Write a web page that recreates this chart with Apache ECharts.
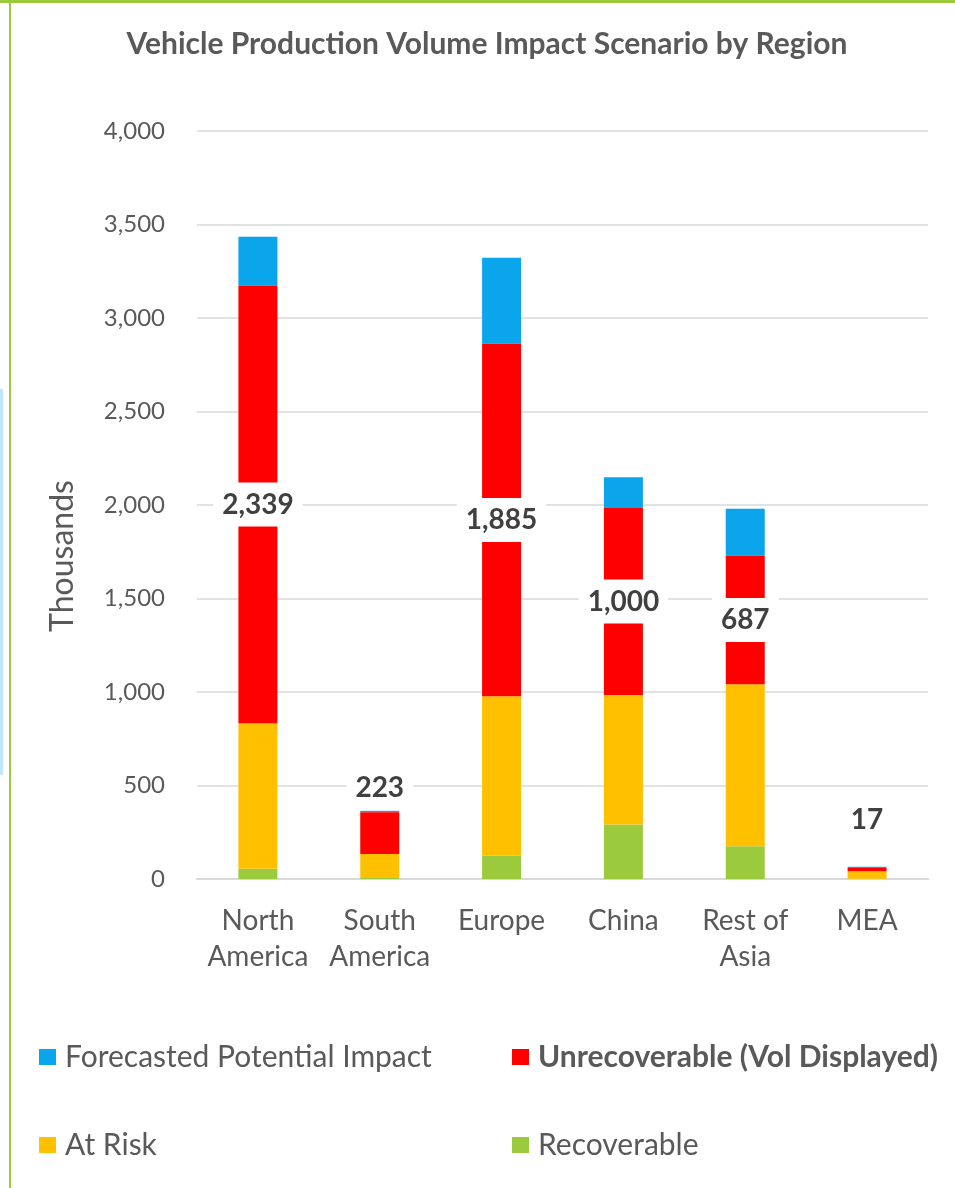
<!DOCTYPE html>
<html>
<head>
<meta charset="utf-8">
<script src="https://cdn.jsdelivr.net/npm/echarts@6/dist/echarts.min.js"></script>
<style>
  html, body { margin: 0; padding: 0; background: #ffffff; }
  #chart { width: 955px; height: 1188px; }
</style>
</head>
<body>
<div id="chart"></div>
<script>
// Regions and per-segment production volumes (thousands of vehicles)
const categories = ['North\nAmerica', 'South\nAmerica', 'Europe', 'China', 'Rest of\nAsia', 'MEA'];
const recoverable = [55, 6, 125, 292, 175, 2];
const atRisk = [778, 128, 852, 692, 866, 40];
const unrecoverable = [2339, 223, 1885, 1000, 687, 17];
const forecasted = [262, 8, 460, 165, 252, 7];

const seriesNames = ['Forecasted Potential Impact', 'Unrecoverable (Vol Displayed)', 'At Risk', 'Recoverable'];
const colors = {
  forecast: '#0BA5EC',
  unrec: '#FF0000',
  risk: '#FFC000',
  recov: '#9BCB3C'
};

const FONT = 'Lato, "Open Sans", sans-serif';
const TEXT = '#595959';

// Small segments get their value label lifted above the bar
const labelLift = { 1: 2, 5: 26 };
const unrecData = unrecoverable.map((v, i) => {
  if (labelLift[i] !== undefined) {
    return { value: v, label: { position: 'top', distance: labelLift[i] } };
  }
  return v;
});

const chart = echarts.init(document.getElementById('chart'), null, { renderer: 'canvas' });

const legendText = { fontFamily: FONT, fontSize: 30, color: TEXT };
function legendAt(name, left, top, bold) {
  return {
    data: [name],
    left: left, top: top,
    padding: 0,
    itemWidth: 17, itemHeight: 16, itemGap: 6,
    icon: 'rect',
    selectedMode: false,
    textStyle: Object.assign({}, legendText, bold ? { fontWeight: 'bold' } : {}, { padding: [0, 0, 0, 4] })
  };
}

const option = {
  backgroundColor: '#ffffff',
  animation: false,
  title: {
    text: 'Vehicle Production Volume Impact Scenario by Region',
    left: 482, top: 24,
    textAlign: 'center',
    textStyle: { fontFamily: FONT, fontSize: 30, fontWeight: 'bold', color: TEXT }
  },
  legend: [
    legendAt(seriesNames[0], 39, 1042, false),
    legendAt(seriesNames[1], 512, 1042, true),
    legendAt(seriesNames[2], 39, 1130, false),
    legendAt(seriesNames[3], 512, 1130, false)
  ],
  grid: { left: 197, right: 27, top: 131, bottom: 309, containLabel: false },
  xAxis: {
    type: 'category',
    data: categories,
    axisLine: { lineStyle: { color: '#D9D9D9', width: 2 } },
    axisTick: { show: false },
    axisLabel: { interval: 0, fontFamily: FONT, fontSize: 28, color: TEXT, margin: 24, lineHeight: 36 }
  },
  yAxis: {
    type: 'value',
    min: 0, max: 4000, interval: 500,
    name: 'Thousands',
    nameLocation: 'middle',
    nameGap: 118,
    nameRotate: 90,
    nameTextStyle: { fontFamily: FONT, fontSize: 32, color: TEXT, padding: [0, 102, 0, 0] },
    axisLine: { show: false },
    axisTick: { show: false },
    splitLine: { lineStyle: { color: '#D9D9D9', width: 1.5 } },
    axisLabel: {
      fontFamily: FONT, fontSize: 24, color: TEXT, margin: 32,
      formatter: v => v.toLocaleString('en-US')
    }
  },
  series: [
    {
      name: seriesNames[3], type: 'bar', stack: 'vol', data: recoverable,
      barWidth: 39, itemStyle: { color: colors.recov }
    },
    {
      name: seriesNames[2], type: 'bar', stack: 'vol', data: atRisk,
      itemStyle: { color: colors.risk }
    },
    {
      name: seriesNames[1], type: 'bar', stack: 'vol', data: unrecData,
      itemStyle: { color: colors.unrec },
      label: {
        show: true, position: 'inside',
        fontFamily: FONT, fontSize: 28, fontWeight: 'bold', color: '#404040',
        backgroundColor: '#ffffff', padding: [8, 9],
        formatter: p => p.value.toLocaleString('en-US')
      },
      z: 3
    },
    {
      name: seriesNames[0], type: 'bar', stack: 'vol', data: forecasted,
      itemStyle: { color: colors.forecast }
    }
  ],
  graphic: [
    { type: 'rect', shape: { x: 0, y: 0, width: 955, height: 3 }, style: { fill: '#9BCB3C' }, silent: true },
    { type: 'rect', shape: { x: 9, y: 0, width: 2, height: 1188 }, style: { fill: '#9BCB3C' }, silent: true },
    { type: 'rect', shape: { x: 0, y: 389, width: 3, height: 386 }, style: { fill: '#BDE7FB' }, silent: true }
  ]
};

chart.setOption(option);
</script>
</body>
</html>
